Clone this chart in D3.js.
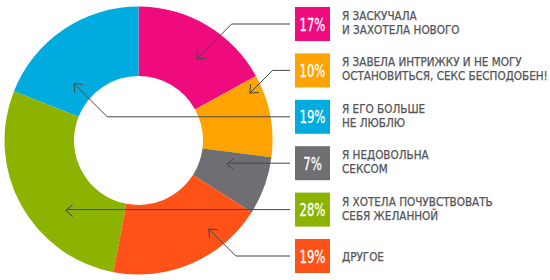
<!DOCTYPE html>
<html>
<head>
<meta charset="utf-8">
<style>
  body { margin: 0; background: #fff; }
  svg { display: block; }
  .lbl { font-family: "Liberation Sans Narrow", "DejaVu Sans Condensed", sans-serif; font-size: 11.6px; fill: #535457; stroke: #535457; stroke-width: 0.25px; }
  .pct { font-family: "Liberation Sans Narrow", "DejaVu Sans Condensed", sans-serif; font-size: 18px; fill: #fff; stroke: #fff; stroke-width: 0.3px; }
</style>
</head>
<body>
<svg id="chart" width="550" height="280"></svg>
<script src="https://cdn.jsdelivr.net/npm/d3@7"></script>
<script>
// data, legend order
const categories = ["bored", "affair", "noLove", "unhappy", "wanted", "other"]
const values = [17, 10, 19, 7, 28, 19]
const labels = [
  ["Я ЗАСКУЧАЛА", "И ЗАХОТЕЛА НОВОГО"],
  ["Я ЗАВЕЛА ИНТРИЖКУ И НЕ МОГУ", "ОСТАНОВИТЬСЯ, СЕКС БЕСПОДОБЕН!"],
  ["Я ЕГО БОЛЬШЕ", "НЕ ЛЮБЛЮ"],
  ["Я НЕДОВОЛЬНА", "СЕКСОМ"],
  ["Я ХОТЕЛА ПОЧУВСТВОВАТЬ", "СЕБЯ ЖЕЛАННОЙ"],
  ["ДРУГОЕ"]
]
// order of the slices going clockwise from 12 o'clock
const sliceOrder = ["bored", "affair", "unhappy", "other", "wanted", "noLove"]
const colors = ["#ef0b7d", "#fea402", "#00abe0", "#6e6e73", "#8bb300", "#fe5219"]

// where each arrow points inside its slice: t = share of the slice angle, r = radius
const leaders = [
  { t: 0.58, r: 100 },
  { t: 0.16, r: 121 },
  { t: 0.29, r: 86 },
  { t: 0.31, r: 91.6 },
  { t: 0.35, r: 101 },
  { t: 0.28, r: 113 }
]

const svg = d3.select("#chart")
const cx = 138.5, cy = 140.5
const outerR = 134, innerR = 64.5

const color = d3.scaleOrdinal().domain(categories).range(colors)

const rows = categories.map((c, i) => ({ key: c, value: values[i], label: labels[i], lead: leaders[i] }))

const pie = d3.pie()
  .sort((a, b) => sliceOrder.indexOf(a.key) - sliceOrder.indexOf(b.key))
  .value(d => d.value)
const arcs = pie(rows)

const arc = d3.arc().innerRadius(innerR).outerRadius(outerR)

const donut = svg.append("g").attr("transform", `translate(${cx},${cy})`)
donut.selectAll("path").data(arcs).enter().append("path")
  .attr("d", arc)
  .attr("fill", d => color(d.data.key))

// legend rows
const rowY = d3.scalePoint().domain(categories).range([7, 239])
const boxX = 295, boxW = 35, boxH = 34, textX = 342

const legend = svg.append("g")
const item = legend.selectAll("g").data(rows).enter().append("g")
  .attr("transform", d => `translate(0,${rowY(d.key)})`)

item.append("rect")
  .attr("x", boxX).attr("width", boxW).attr("height", boxH)
  .attr("fill", d => color(d.key))

item.append("text")
  .attr("class", "pct")
  .attr("text-anchor", "middle")
  .attr("transform", `translate(${boxX + boxW / 2},${boxH / 2 + 6.5}) scale(0.72,1)`)
  .text(d => d.value + "%")

item.append("text")
  .attr("class", "lbl")
  .attr("x", textX)
  .attr("y", d => d.label.length > 1 ? boxH / 2 - 4 : boxH / 2 + 4.5)
  .selectAll("tspan").data(d => d.label).enter().append("tspan")
  .attr("x", textX)
  .attr("dy", (d, i) => i ? 14 : 0)
  .text(d => d)

// leader lines with open arrowheads
const lines = svg.append("g")
  .attr("fill", "none").attr("stroke", "#45464a").attr("stroke-width", 1)

arcs.forEach(a => {
  const d = a.data
  const ang = a.startAngle + d.lead.t * (a.endAngle - a.startAngle)
  const tip = [cx + d.lead.r * Math.sin(ang), cy - d.lead.r * Math.cos(ang)]
  const y = rowY(d.key) + boxH / 2
  const bend = [tip[0] + Math.abs(y - tip[1]), y]
  lines.append("path").attr("d", d3.line()([tip, bend, [boxX - 5, y]]))

  // arrowhead along the first segment
  let dx = bend[0] - tip[0], dy = bend[1] - tip[1]
  if (Math.hypot(dx, dy) < 3) { dx = 1; dy = 0 }
  const base = Math.atan2(dy, dx), len = 9, spread = 0.7
  const p1 = [tip[0] + len * Math.cos(base - spread), tip[1] + len * Math.sin(base - spread)]
  const p2 = [tip[0] + len * Math.cos(base + spread), tip[1] + len * Math.sin(base + spread)]
  lines.append("path").attr("d", d3.line()([p1, tip, p2]))
})
</script>
</body>
</html>
